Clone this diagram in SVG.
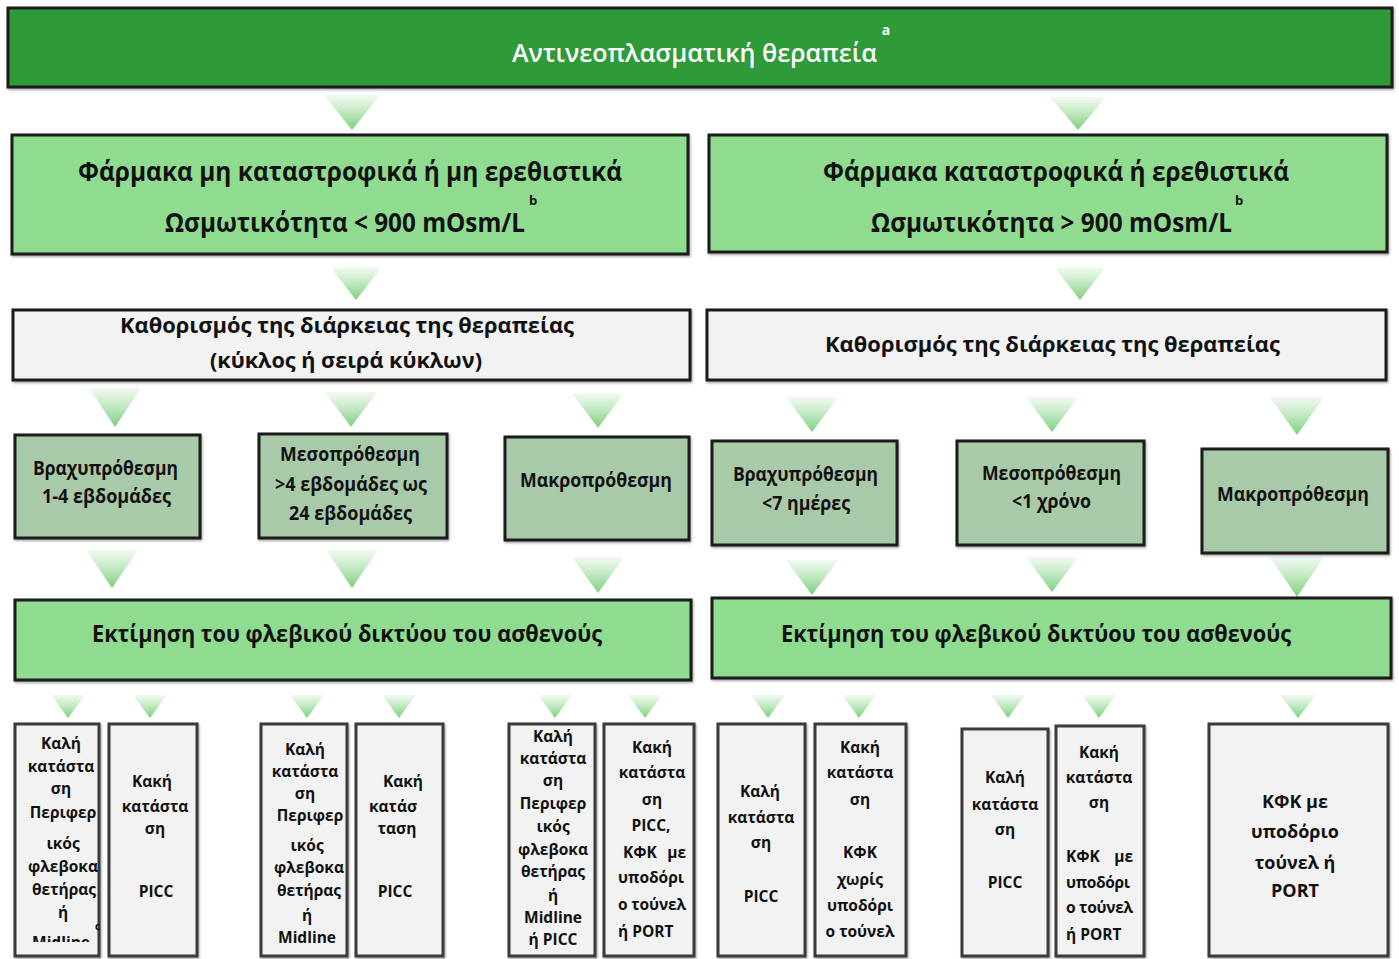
<svg xmlns="http://www.w3.org/2000/svg" width="1399" height="959" viewBox="0 0 1399 959">
<defs>
<linearGradient id="ag" x1="0" y1="0" x2="0" y2="1">
<stop offset="0" stop-color="#f2faf2"/>
<stop offset="0.45" stop-color="#c4eac4"/>
<stop offset="1" stop-color="#7fcf7f"/>
</linearGradient>
<filter id="sh" x="-5%" y="-5%" width="110%" height="115%">
<feDropShadow dx="1" dy="1.5" stdDeviation="1.2" flood-color="#000" flood-opacity="0.35"/>
</filter>
<filter id="soft" x="-20%" y="-20%" width="140%" height="140%">
<feGaussianBlur stdDeviation="0.7"/>
</filter>
<clipPath id="c1"><rect x="14" y="723" width="86" height="219"/></clipPath>
<style>
.bx{stroke:#1c1c1c;stroke-width:3;filter:url(#sh)}
.dark{fill:#2f9a37}
.lg{fill:#8fdb8f}
.gr{fill:#f2f2f2}
.mg{fill:#a9caa9}
.sm{fill:#f2f2f2;stroke:#3a3a3a;stroke-width:3;filter:url(#sh)}
.ar{fill:url(#ag);filter:url(#soft)}
text{font-family:"Open Sans","Liberation Sans",sans-serif;font-weight:700;fill:#111}
.ttl{font-size:25px;font-weight:600;fill:#fff}
.h2{font-size:27px}
.h3{font-size:22px}
.h4{font-size:19px}
.h5{font-size:24px}
.s{font-size:15.5px;text-anchor:middle}
.sl{font-size:15.5px}
.sup{font-size:13px}
.big{font-size:18px;text-anchor:middle}
</style>
</defs>

<g id="connectors">
<polygon class="ar" points="324,95 380,95 352,130"/>
<polygon class="ar" points="1050,97 1106,97 1078,130"/>
<polygon class="ar" points="331,268 381,268 356,300"/>
<polygon class="ar" points="1055,268 1105,268 1080,300"/>
<polygon class="ar" points="89,388 141,388 115,427"/>
<polygon class="ar" points="325,392 377,392 351,427"/>
<polygon class="ar" points="572,393 624,393 598,428"/>
<polygon class="ar" points="786,397 838,397 812,432"/>
<polygon class="ar" points="1026,397 1078,397 1052,432"/>
<polygon class="ar" points="1270,397 1324,397 1297,435"/>
<polygon class="ar" points="86,550 138,550 112,588"/>
<polygon class="ar" points="326,550 378,550 352,588"/>
<polygon class="ar" points="572,557 624,557 598,593"/>
<polygon class="ar" points="786,560 838,560 812,595"/>
<polygon class="ar" points="1026,557 1078,557 1052,592"/>
<polygon class="ar" points="1270,557 1324,557 1297,597"/>
<polygon class="ar" points="51,695 85,695 68,718"/>
<polygon class="ar" points="133,695 167,695 150,718"/>
<polygon class="ar" points="290,695 324,695 307,718"/>
<polygon class="ar" points="382,695 416,695 399,718"/>
<polygon class="ar" points="538,695 572,695 555,718"/>
<polygon class="ar" points="628,695 662,695 645,718"/>
<polygon class="ar" points="751,695 785,695 768,718"/>
<polygon class="ar" points="842,695 876,695 859,718"/>
<polygon class="ar" points="991,695 1025,695 1008,718"/>
<polygon class="ar" points="1082,695 1116,695 1099,718"/>
<polygon class="ar" points="1280,695 1316,695 1298,718"/>
</g>

<g id="n-top">
<rect class="bx dark" x="8" y="8" width="1384" height="79"/>
<text class="ttl" x="512" y="62" textLength="365" lengthAdjust="spacingAndGlyphs">Αντινεοπλασματική  θεραπεία</text>
<text class="sup" x="886" y="35" text-anchor="middle" style="fill:#fff;font-size:14px">a</text>
</g>

<g id="n-nonvesicant">
<rect class="bx lg" x="12" y="135" width="676" height="119"/>
<text class="h2" x="78" y="181" textLength="544" lengthAdjust="spacingAndGlyphs">Φάρμακα μη καταστροφικά ή μη ερεθιστικά</text>
<text class="h2" y="232"><tspan x="165" textLength="360" lengthAdjust="spacingAndGlyphs">Ωσμωτικότητα &lt; 900 mOsm/L</tspan><tspan x="529" y="205" class="sup">b</tspan></text>
</g>

<g id="n-vesicant">
<rect class="bx lg" x="709" y="135" width="678" height="117"/>
<text class="h2" x="823" y="181" textLength="466" lengthAdjust="spacingAndGlyphs">Φάρμακα καταστροφικά ή ερεθιστικά</text>
<text class="h2" y="232"><tspan x="871" textLength="361" lengthAdjust="spacingAndGlyphs">Ωσμωτικότητα &gt; 900 mOsm/L</tspan><tspan x="1235" y="205" class="sup">b</tspan></text>
</g>

<g id="n-duration-left">
<rect class="bx gr" x="13" y="310" width="677" height="70"/>
<text class="h3" x="120" y="333" textLength="454" lengthAdjust="spacingAndGlyphs">Καθορισμός της διάρκειας της θεραπείας</text>
<text class="h3" x="210" y="368" textLength="272" lengthAdjust="spacingAndGlyphs">(κύκλος ή σειρά κύκλων)</text>
</g>

<g id="n-duration-right">
<rect class="bx gr" x="707" y="310" width="679" height="70"/>
<text class="h3" x="825" y="352" textLength="455" lengthAdjust="spacingAndGlyphs">Καθορισμός της διάρκειας της θεραπείας</text>
</g>

<g id="n-short-left">
<rect class="bx mg" x="15" y="435" width="185" height="103"/>
<text class="h4" x="33" y="475" textLength="145" lengthAdjust="spacingAndGlyphs">Βραχυπρόθεσμη</text>
<text class="h4" x="42" y="503" textLength="129" lengthAdjust="spacingAndGlyphs">1-4 εβδομάδες</text>
</g>
<g id="n-mid-left">
<rect class="bx mg" x="259" y="434" width="188" height="104"/>
<text class="h4" x="280" y="461" textLength="140" lengthAdjust="spacingAndGlyphs">Μεσοπρόθεσμη</text>
<text class="h4" x="275" y="491" textLength="152" lengthAdjust="spacingAndGlyphs">&gt;4 εβδομάδες ως</text>
<text class="h4" x="289" y="520" textLength="123" lengthAdjust="spacingAndGlyphs">24 εβδομάδες</text>
</g>
<g id="n-long-left">
<rect class="bx mg" x="505" y="437" width="184" height="103"/>
<text class="h4" x="520" y="487" textLength="152" lengthAdjust="spacingAndGlyphs">Μακροπρόθεσμη</text>
</g>
<g id="n-short-right">
<rect class="bx mg" x="712" y="441" width="185" height="104"/>
<text class="h4" x="733" y="481" textLength="145" lengthAdjust="spacingAndGlyphs">Βραχυπρόθεσμη</text>
<text class="h4" x="762" y="510" textLength="88" lengthAdjust="spacingAndGlyphs">&lt;7 ημέρες</text>
</g>
<g id="n-mid-right">
<rect class="bx mg" x="957" y="441" width="187" height="104"/>
<text class="h4" x="982" y="480" textLength="139" lengthAdjust="spacingAndGlyphs">Μεσοπρόθεσμη</text>
<text class="h4" x="1012" y="508" textLength="79" lengthAdjust="spacingAndGlyphs">&lt;1 χρόνο</text>
</g>
<g id="n-long-right">
<rect class="bx mg" x="1202" y="449" width="186" height="104"/>
<text class="h4" x="1217" y="501" textLength="152" lengthAdjust="spacingAndGlyphs">Μακροπρόθεσμη</text>
</g>

<g id="n-assess-left">
<rect class="bx lg" x="15" y="600" width="676" height="80"/>
<text class="h5" x="92" y="642" textLength="510" lengthAdjust="spacingAndGlyphs">Εκτίμηση του φλεβικού δικτύου του ασθενούς</text>
</g>
<g id="n-assess-right">
<rect class="bx lg" x="712" y="598" width="679" height="80"/>
<text class="h5" x="781" y="642" textLength="510" lengthAdjust="spacingAndGlyphs">Εκτίμηση του φλεβικού δικτύου του ασθενούς</text>
</g>

<g id="n-b1">
<rect class="sm" x="15" y="724" width="84" height="232"/>
<g clip-path="url(#c1)">
<text class="s" x="61" y="749">Καλή</text>
<text class="s" x="61" y="772">κατάστα</text>
<text class="s" x="61" y="794">ση</text>
<text class="s" x="63" y="818">Περιφερ</text>
<text class="s" x="63" y="849">ικός</text>
<text class="s" x="63" y="872">φλεβοκα</text>
<text class="s" x="64" y="895">θετήρας</text>
<text class="s" x="63" y="918">ή</text>
<text class="s" x="61" y="948">Midline</text>
</g>
<text x="95" y="930" style="font-size:10px">c</text>
</g>
<g id="n-b2">
<rect class="sm" x="109" y="724" width="88" height="232"/>
<text class="s" x="152" y="787">Κακή</text>
<text class="s" x="155" y="812">κατάστα</text>
<text class="s" x="155" y="834">ση</text>
<text class="s" x="156" y="897">PICC</text>
</g>
<g id="n-b3">
<rect class="sm" x="261" y="724" width="86" height="232"/>
<text class="s" x="305" y="755">Καλή</text>
<text class="s" x="305" y="777">κατάστα</text>
<text class="s" x="305" y="799">ση</text>
<text class="s" x="310" y="821">Περιφερ</text>
<text class="s" x="307" y="851">ικός</text>
<text class="s" x="309" y="873">φλεβοκα</text>
<text class="s" x="309" y="896">θετήρας</text>
<text class="s" x="307" y="921">ή</text>
<text class="s" x="307" y="943">Midline</text>
</g>
<g id="n-b4">
<rect class="sm" x="356" y="724" width="87" height="232"/>
<text class="s" x="403" y="787">Κακή</text>
<text class="s" x="393" y="812">κατάσ</text>
<text class="s" x="397" y="834">ταση</text>
<text class="s" x="395" y="897">PICC</text>
</g>
<g id="n-b5">
<rect class="sm" x="509" y="724" width="86" height="232"/>
<text class="s" x="553" y="742">Καλή</text>
<text class="s" x="553" y="764">κατάστα</text>
<text class="s" x="553" y="786">ση</text>
<text class="s" x="553" y="809">Περιφερ</text>
<text class="s" x="553" y="832">ικός</text>
<text class="s" x="553" y="855">φλεβοκα</text>
<text class="s" x="553" y="877">θετήρας</text>
<text class="s" x="553" y="901">ή</text>
<text class="s" x="553" y="923">Midline</text>
<text class="s" x="553" y="945">ή PICC</text>
</g>
<g id="n-b6">
<rect class="sm" x="604" y="724" width="90" height="232"/>
<text class="s" x="652" y="753">Κακή</text>
<text class="s" x="652" y="778">κατάστα</text>
<text class="s" x="652" y="805">ση</text>
<text class="s" x="651" y="831">PICC,</text>
<text class="sl" y="858"><tspan x="623">ΚΦΚ</tspan><tspan x="686" text-anchor="end">με</tspan></text>
<text class="sl" x="618" y="883" textLength="66" lengthAdjust="spacing">υποδόρι</text>
<text class="sl" x="618" y="910" textLength="68" lengthAdjust="spacing">ο τούνελ</text>
<text class="sl" x="618" y="937">ή PORT</text>
</g>
<g id="n-b7">
<rect class="sm" x="718" y="724" width="87" height="232"/>
<text class="s" x="760" y="797">Καλή</text>
<text class="s" x="761" y="823">κατάστα</text>
<text class="s" x="761" y="848">ση</text>
<text class="s" x="761" y="902">PICC</text>
</g>
<g id="n-b8">
<rect class="sm" x="815" y="724" width="91" height="232"/>
<text class="s" x="860" y="753">Κακή</text>
<text class="s" x="860" y="778">κατάστα</text>
<text class="s" x="860" y="805">ση</text>
<text class="s" x="860" y="858">ΚΦΚ</text>
<text class="s" x="860" y="885">χωρίς</text>
<text class="s" x="860" y="911">υποδόρι</text>
<text class="s" x="860" y="937">ο τούνελ</text>
</g>
<g id="n-b9">
<rect class="sm" x="962" y="729" width="86" height="227"/>
<text class="s" x="1005" y="783">Καλή</text>
<text class="s" x="1005" y="810">κατάστα</text>
<text class="s" x="1005" y="835">ση</text>
<text class="s" x="1005" y="888">PICC</text>
</g>
<g id="n-b10">
<rect class="sm" x="1056" y="726" width="88" height="230"/>
<text class="s" x="1099" y="758">Κακή</text>
<text class="s" x="1099" y="783">κατάστα</text>
<text class="s" x="1099" y="808">ση</text>
<text class="sl" y="862"><tspan x="1066">ΚΦΚ</tspan><tspan x="1133" text-anchor="end">με</tspan></text>
<text class="sl" x="1066" y="888" textLength="64" lengthAdjust="spacing">υποδόρι</text>
<text class="sl" x="1066" y="913" textLength="67" lengthAdjust="spacing">ο τούνελ</text>
<text class="sl" x="1066" y="940">ή PORT</text>
</g>
<g id="n-b11">
<rect class="sm" x="1209" y="724" width="179" height="232"/>
<text class="big" x="1295" y="808">ΚΦΚ με</text>
<text class="big" x="1295" y="838">υποδόριο</text>
<text class="big" x="1295" y="869">τούνελ ή</text>
<text class="big" x="1295" y="897">PORT</text>
</g>
</svg>
